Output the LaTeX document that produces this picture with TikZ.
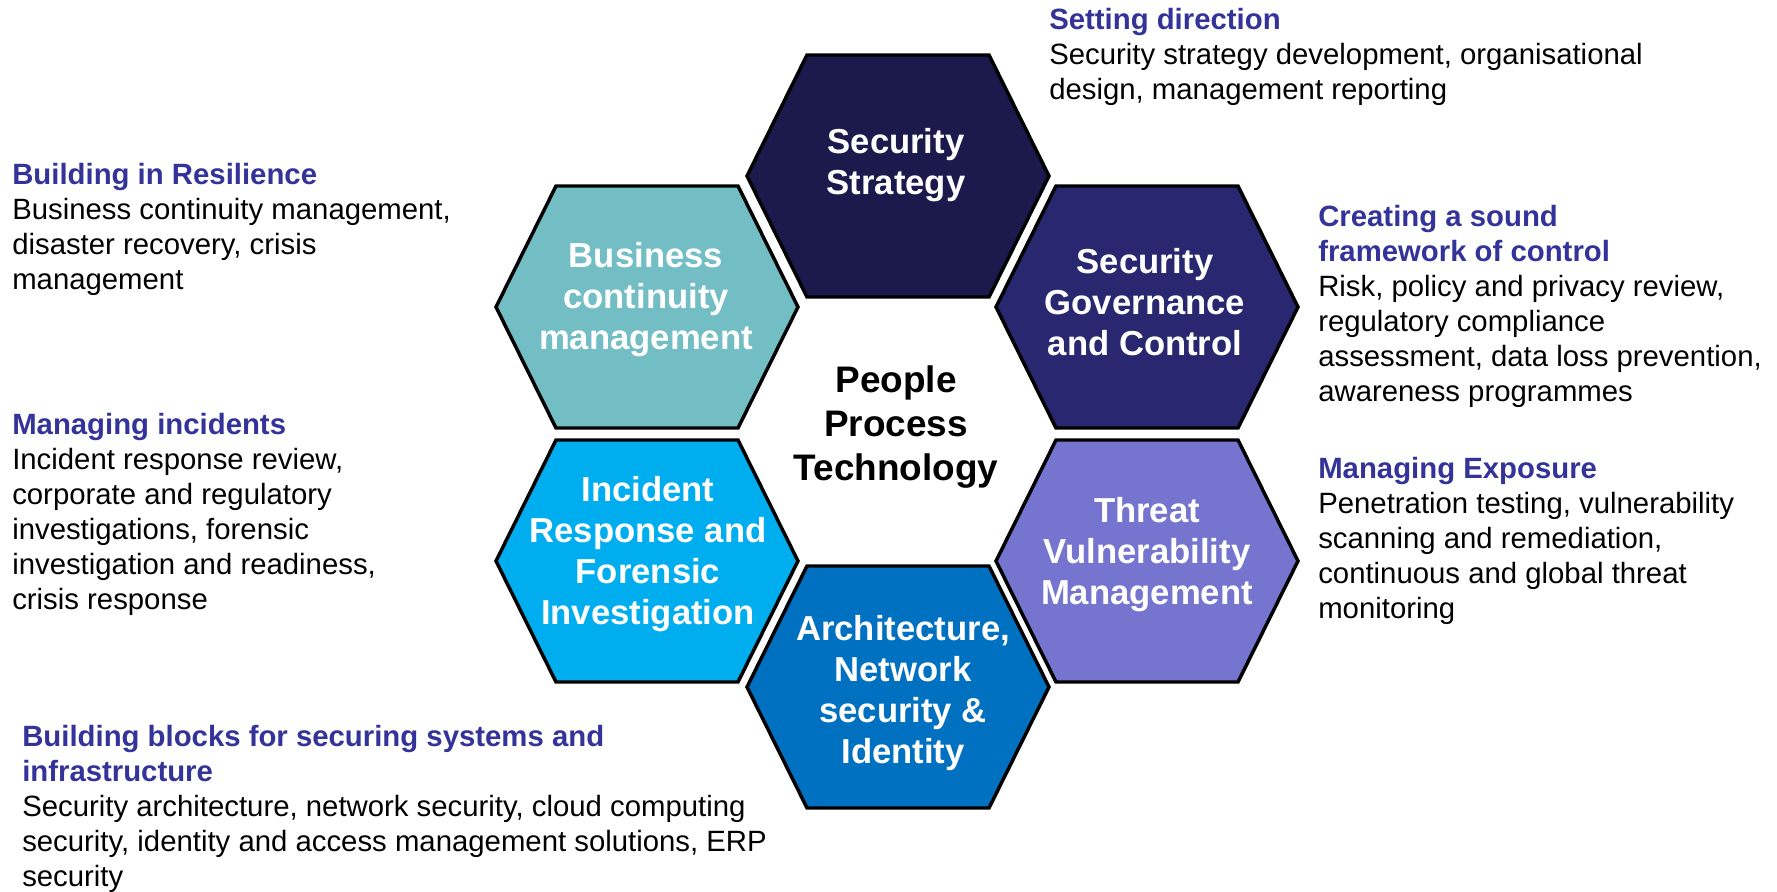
\documentclass[tikz,border=0pt]{standalone}
\usepackage{fontspec}
\setmainfont{Liberation Sans}
\usepackage{tikz}
\usepackage{xcolor}

\definecolor{headblue}{RGB}{51,51,153}
\definecolor{stratnavy}{RGB}{28,26,77}
\definecolor{govindigo}{RGB}{41,39,111}
\definecolor{bcmteal}{RGB}{114,190,196}
\definecolor{ircyan}{RGB}{0,174,239}
\definecolor{tvmviolet}{RGB}{117,117,208}
\definecolor{archblue}{RGB}{0,112,192}

\newcommand{\hdtxt}[1]{{\bfseries\color{headblue}#1}}

\begin{document}
\begin{tikzpicture}[x=0.75pt,y=0.75pt,yscale=-1,xscale=1,
  hexcell/.style={draw=black, line width=2.6pt, line join=miter},
  hexlabel/.style={text=white, font=\fontsize{26}{30.75}\selectfont\bfseries, align=center, anchor=north, inner sep=0pt},
  coretext/.style={text=black, font=\fontsize{27.7}{33}\selectfont\bfseries, align=center, anchor=north, inner sep=0pt},
  sidetext/.style={text=black, font=\fontsize{22}{26.25}\selectfont, align=left, anchor=north west, inner sep=0pt}]
%set diagram size 1777 x 892
\useasboundingbox (0,0) rectangle (1777,892);

%Shape: Hexagon [id:hx_strategy]
\draw [hexcell, fill=stratnavy] (747,176) -- (807,55) -- (989,55) -- (1049,176) -- (989,297) -- (807,297) -- cycle ;
%Shape: Hexagon [id:hx_bcm]
\draw [hexcell, fill=bcmteal] (496,307) -- (556,186) -- (738,186) -- (798,307) -- (738,428) -- (556,428) -- cycle ;
%Shape: Hexagon [id:hx_governance]
\draw [hexcell, fill=govindigo] (996,307) -- (1056,186) -- (1238,186) -- (1298,307) -- (1238,428) -- (1056,428) -- cycle ;
%Shape: Hexagon [id:hx_incident]
\draw [hexcell, fill=ircyan] (496,561) -- (556,440) -- (738,440) -- (798,561) -- (738,682) -- (556,682) -- cycle ;
%Shape: Hexagon [id:hx_threat]
\draw [hexcell, fill=tvmviolet] (996,561) -- (1056,440) -- (1238,440) -- (1298,561) -- (1238,682) -- (1056,682) -- cycle ;
%Shape: Hexagon [id:hx_arch]
\draw [hexcell, fill=archblue] (747,687) -- (807,566) -- (989,566) -- (1049,687) -- (989,808) -- (807,808) -- cycle ;

% Text Node
\node [hexlabel] (strategy) at (896,128) {Security\\Strategy};
% Text Node
\node [hexlabel] (bcm) at (646,242) {Business\\continuity\\management};
% Text Node
\node [hexlabel] (governance) at (1145,248) {Security\\Governance\\and Control};
% Text Node
\node [hexlabel] (incident) at (648,476) {Incident\\Response and\\Forensic\\Investigation};
% Text Node
\node [hexlabel] (threat) at (1147,497) {Threat\\Vulnerability\\Management};
% Text Node
\node [hexlabel] (arch) at (903,615) {Architecture,\\Network\\security \&\\Identity};
% Text Node
\node [coretext] (core) at (896,365) {People\\Process\\Technology};

% Text Node
\node [sidetext] (direction) at (1049,8) {\hdtxt{Setting direction}\\Security strategy development, organisational\\design, management reporting};
% Text Node
\node [sidetext] (resilience) at (12,163) {\hdtxt{Building in Resilience}\\Business continuity management,\\disaster recovery, crisis\\management};
% Text Node
\node [sidetext] (incidents) at (12,413) {\hdtxt{Managing incidents}\\Incident response review,\\corporate and regulatory\\investigations, forensic\\investigation and readiness,\\crisis response};
% Text Node
\node [sidetext] (control) at (1318,205) {\hdtxt{Creating a sound}\\\hdtxt{framework of control}\\Risk, policy and privacy review,\\regulatory compliance\\assessment, data loss prevention,\\awareness programmes};
% Text Node
\node [sidetext] (exposure) at (1318,457) {\hdtxt{Managing Exposure}\\Penetration testing, vulnerability\\scanning and remediation,\\continuous and global threat\\monitoring};
% Text Node
\node [sidetext] (blocks) at (22,725) {\hdtxt{Building blocks for securing systems and}\\\hdtxt{infrastructure}\\Security architecture, network security, cloud computing\\security, identity and access management solutions, ERP\\security};

\end{tikzpicture}
\end{document}
